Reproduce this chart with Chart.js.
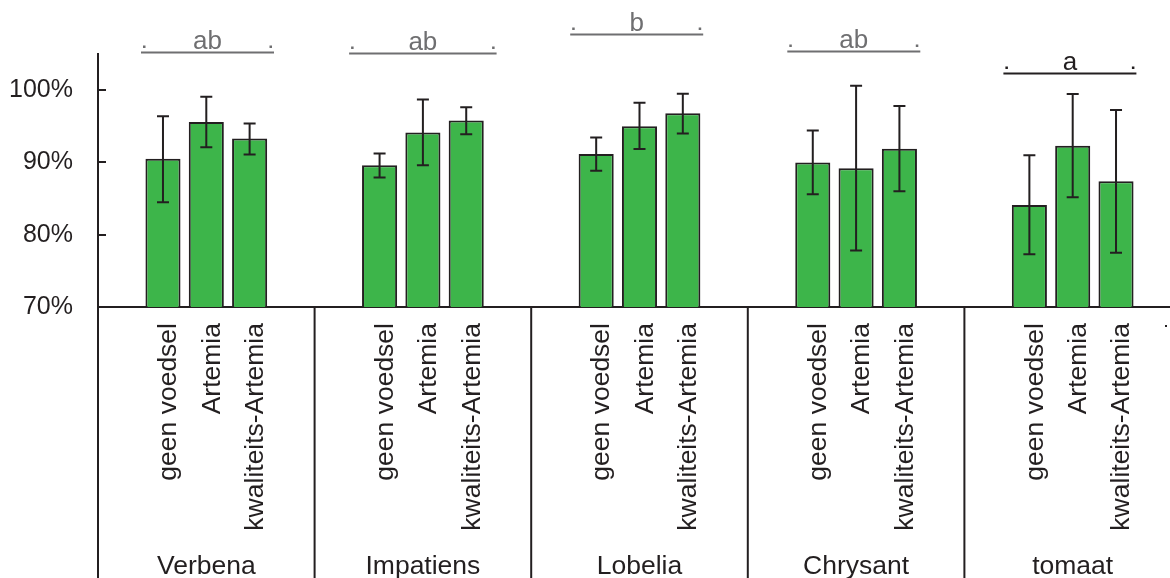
<!DOCTYPE html>
<html>
<head>
<meta charset="utf-8">
<script src="https://cdn.jsdelivr.net/npm/chart.js@4.4.1/dist/chart.umd.min.js"></script>
<style>
  html, body { margin: 0; padding: 0; overflow: hidden; background: #fff; }
  #wrap { width: 1181px; height: 578px; }
</style>
</head>
<body>
<div id="wrap"><canvas id="c" width="1181" height="578"></canvas></div>
<script>
// ---- data ----
const groups = ['Verbena', 'Impatiens', 'Lobelia', 'Chrysant', 'tomaat'];
const treatments = ['geen voedsel', 'Artemia', 'kwaliteits-Artemia'];

// mean survival (%) per treatment, one value per group
const meanGeen    = [90.5, 89.6, 91.15, 90.0, 84.1];
const meanArtemia = [95.6, 94.15, 95.0, 89.2, 92.3];
const meanKwal    = [93.3, 95.8, 96.8, 91.9, 87.4];

// error bar upper / lower ends (%)
const hiGeen    = [96.4, 91.25, 93.45, 94.4, 91.0];
const loGeen    = [84.5, 87.9, 88.85, 85.6, 77.3];
const hiArtemia = [99.1, 98.7, 98.25, 100.6, 99.45];
const loArtemia = [92.1, 89.6, 91.85, 77.8, 85.2];
const hiKwal    = [95.4, 97.65, 99.5, 97.8, 97.25];
const loKwal    = [91.1, 93.9, 94.0, 86.0, 77.5];

// significance letters and the level (%) of their bracket
const sigLetters = ['ab', 'ab', 'b', 'ab', 'a'];
const sigLevel   = [105.3, 105.2, 107.8, 105.4, 102.35];

const yTicks = [70, 80, 90, 100];

// ---- build category table: each group = blank, 3 bars, blank ----
const labels = [], values = [], his = [], los = [];
groups.forEach((g, gi) => {
  const m = [meanGeen[gi], meanArtemia[gi], meanKwal[gi]];
  const h = [hiGeen[gi], hiArtemia[gi], hiKwal[gi]];
  const l = [loGeen[gi], loArtemia[gi], loKwal[gi]];
  labels.push(''); values.push(null); his.push(null); los.push(null);
  treatments.forEach((t, ti) => {
    labels.push(t); values.push(m[ti]); his.push(h[ti]); los.push(l[ti]);
  });
  labels.push(''); values.push(null); his.push(null); los.push(null);
});

const INK = '#231f20';
const GRAY = '#6f6f71';
const FONT = '"Liberation Sans", Arial, sans-serif';

// layout-only tweaks for the brackets (pixel offsets from group's left edge)
const sigSpanL = [43, 34.5, 39, 39.5, 39];
const sigSpanR = [176, 182, 172, 172.5, 172];
const sigColor = [GRAY, GRAY, GRAY, GRAY, INK];

const decor = {
  id: 'decor',
  afterDatasetsDraw(chart) {
    const ctx = chart.ctx, x = chart.scales.x, y = chart.scales.y;
    ctx.save();
    ctx.strokeStyle = INK;
    ctx.lineWidth = 2;
    for (let i = 0; i < values.length; i++) {
      if (values[i] === null) continue;
      const px = x.getPixelForValue(i);
      const yh = y.getPixelForValue(his[i]);
      const yl = y.getPixelForValue(los[i]);
      ctx.beginPath();
      ctx.moveTo(px, yh); ctx.lineTo(px, yl);
      ctx.moveTo(px - 6, yh); ctx.lineTo(px + 6, yh);
      ctx.moveTo(px - 6, yl); ctx.lineTo(px + 6, yl);
      ctx.stroke();
    }
    ctx.restore();
  },
  afterDraw(chart) {
    const ctx = chart.ctx, x = chart.scales.x, y = chart.scales.y;
    const area = chart.chartArea;
    const H = chart.height;
    ctx.save();
    ctx.strokeStyle = INK;
    ctx.lineWidth = 2;
    yTicks.forEach(v => {
      const py = Math.round(y.getPixelForValue(v));
      ctx.beginPath();
      ctx.moveTo(area.left, py); ctx.lineTo(area.left + 8, py);
      ctx.stroke();
    });
    const slot = x.getPixelForValue(1) - x.getPixelForValue(0);
    for (let g = 0; g < groups.length; g++) {
      const gx = x.getPixelForValue(g * 5) - slot / 2;
      ctx.beginPath();
      ctx.moveTo(gx, area.bottom); ctx.lineTo(gx, H);
      ctx.stroke();
    }
    ctx.fillStyle = INK;
    ctx.font = '26.5px ' + FONT;
    ctx.textAlign = 'center';
    ctx.textBaseline = 'alphabetic';
    groups.forEach((g, gi) => {
      ctx.fillText(g, x.getPixelForValue(gi * 5 + 2), 574);
    });
    groups.forEach((g, gi) => {
      const gx = x.getPixelForValue(gi * 5) - slot / 2;
      const x1 = gx + sigSpanL[gi], x2 = gx + sigSpanR[gi];
      const ly = Math.round(y.getPixelForValue(sigLevel[gi])) + 0.5;
      ctx.strokeStyle = sigColor[gi];
      ctx.fillStyle = sigColor[gi];
      ctx.lineWidth = 2;
      ctx.beginPath();
      ctx.moveTo(x1, ly); ctx.lineTo(x2, ly);
      ctx.stroke();
      ctx.fillRect(x1 + 2, ly - 7, 2.5, 2.5);
      ctx.fillRect(x2 - 4.5, ly - 7, 2.5, 2.5);
      ctx.font = '26px ' + FONT;
      ctx.textAlign = 'center';
      ctx.fillText(sigLetters[gi], (x1 + x2) / 2, ly - 4);
    });
    ctx.fillStyle = INK;
    ctx.fillRect(1165, 325, 2, 2);
    ctx.restore();
  }
};

new Chart(document.getElementById('c'), {
  type: 'bar',
  data: {
    labels: labels,
    datasets: [{
      data: values,
      backgroundColor: '#3db54a',
      borderColor: INK,
      borderWidth: 2,
      barPercentage: 0.81,
      categoryPercentage: 1.0
    }]
  },
  options: {
    responsive: false,
    animation: false,
    devicePixelRatio: 1,
    layout: { padding: { top: 54, left: 0, right: 0, bottom: 0 } },
    plugins: { legend: { display: false }, tooltip: { enabled: false } },
    scales: {
      x: {
        type: 'category',
        grid: { display: false, drawTicks: false },
        border: { display: true, color: INK, width: 2 },
        ticks: {
          autoSkip: false,
          minRotation: 90,
          maxRotation: 90,
          padding: 16,
          labelOffset: 6,
          color: INK,
          font: { family: FONT, size: 26.5 }
        },
        afterFit(scale) {
          scale.height = 271;
          scale.paddingLeft = 0;
          scale.paddingRight = 0;
        }
      },
      y: {
        min: 70,
        max: 105,
        grid: { display: false, drawTicks: false },
        border: { display: true, color: INK, width: 2 },
        ticks: {
          stepSize: 10,
          padding: 25,
          color: INK,
          font: { family: FONT, size: 25 },
          callback: v => v + '%'
        },
        afterBuildTicks(scale) {
          scale.ticks = yTicks.map(v => ({ value: v }));
        },
        afterFit(scale) {
          scale.width = 98;
          scale.paddingTop = 0;
          scale.paddingBottom = 0;
        }
      }
    }
  },
  plugins: [decor]
});
</script>
</body>
</html>
